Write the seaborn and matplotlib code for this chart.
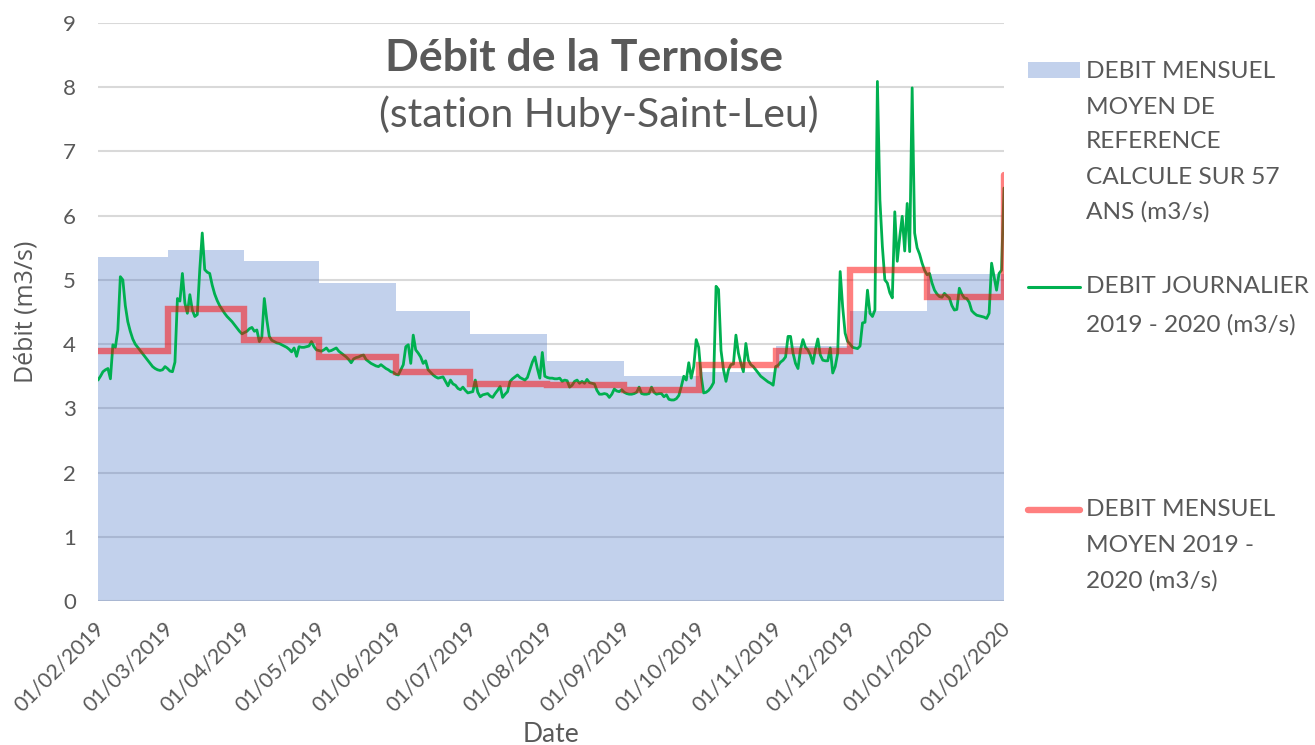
import numpy as np
import pandas as pd
import matplotlib
matplotlib.use("Agg")
import matplotlib.pyplot as plt
import matplotlib.dates as mdates
import matplotlib.transforms as mtransforms
from matplotlib.lines import Line2D
from matplotlib.patches import Rectangle
import seaborn as sns

# ---------------- data ----------------
month_starts = ["01/02/2019", "01/03/2019", "01/04/2019", "01/05/2019", "01/06/2019",
                "01/07/2019", "01/08/2019", "01/09/2019", "01/10/2019", "01/11/2019",
                "01/12/2019", "01/01/2020", "01/02/2020"]

# reference monthly mean over 57 years (one value per month, Feb 2019 .. Jan 2020)
ref_monthly = [5.35, 5.47, 5.30, 4.95, 4.52, 4.15, 3.73, 3.50, 3.56, 3.97, 4.52, 5.09]

# monthly mean 2019-2020 (last value = 01/02/2020)
mean_monthly = [3.90, 4.54, 4.07, 3.80, 3.57, 3.38, 3.37, 3.29, 3.68, 3.90, 5.16, 4.73, 6.64]

# daily discharge 2019-2020
daily_feb = [3.44, 3.50, 3.57, 3.60, 3.62, 3.46, 3.99, 3.95, 4.22, 5.05, 5.00, 4.60, 4.35, 4.20,
             4.08, 4.00, 3.95, 3.90, 3.85, 3.80, 3.75, 3.70, 3.65, 3.62, 3.60, 3.59, 3.60, 3.65]
daily_mar = [3.62, 3.58, 3.57, 3.72, 4.71, 4.67, 5.10, 4.64, 4.48, 4.77, 4.53, 4.43, 4.46, 5.16,
             5.73, 5.16, 5.12, 5.10, 4.92, 4.78, 4.68, 4.60, 4.54, 4.48, 4.43, 4.39, 4.35, 4.30,
             4.25, 4.20, 4.16]
daily_apr = [4.18, 4.20, 4.24, 4.26, 4.20, 4.22, 4.04, 4.11, 4.71, 4.38, 4.12, 4.06, 4.04, 4.02,
             4.01, 3.99, 3.97, 3.95, 3.92, 3.88, 3.94, 3.81, 3.96, 3.95, 3.95, 3.96, 3.97, 4.04,
             3.96, 3.91]
daily_may = [3.90, 3.89, 3.91, 3.94, 3.89, 3.90, 3.92, 3.94, 3.89, 3.86, 3.83, 3.80, 3.76, 3.71,
             3.77, 3.79, 3.80, 3.82, 3.83, 3.76, 3.73, 3.70, 3.68, 3.66, 3.65, 3.68, 3.65, 3.62,
             3.60, 3.57, 3.56]
daily_jun = [3.53, 3.52, 3.60, 3.68, 3.96, 3.99, 3.70, 4.14, 3.91, 3.86, 3.80, 3.70, 3.74, 3.60,
             3.56, 3.52, 3.49, 3.47, 3.48, 3.49, 3.42, 3.35, 3.44, 3.38, 3.36, 3.31, 3.29, 3.33,
             3.28, 3.24]
daily_jul = [3.25, 3.26, 3.44, 3.25, 3.18, 3.21, 3.22, 3.23, 3.19, 3.17, 3.23, 3.28, 3.34, 3.17,
             3.22, 3.26, 3.42, 3.46, 3.49, 3.52, 3.48, 3.46, 3.44, 3.48, 3.60, 3.72, 3.80, 3.62,
             3.47, 3.87, 3.50]
daily_aug = [3.48, 3.47, 3.47, 3.46, 3.46, 3.47, 3.42, 3.44, 3.43, 3.33, 3.36, 3.42, 3.44, 3.39,
             3.42, 3.39, 3.45, 3.40, 3.39, 3.38, 3.28, 3.22, 3.22, 3.23, 3.22, 3.17, 3.22, 3.30,
             3.27, 3.26, 3.29]
daily_sep = [3.25, 3.23, 3.22, 3.22, 3.23, 3.25, 3.33, 3.23, 3.22, 3.22, 3.23, 3.33, 3.25, 3.22,
             3.23, 3.23, 3.18, 3.21, 3.14, 3.13, 3.13, 3.15, 3.20, 3.34, 3.50, 3.44, 3.71, 3.47,
             3.65, 4.07]
daily_oct = [3.95, 3.50, 3.24, 3.25, 3.28, 3.33, 3.40, 4.90, 4.85, 3.90, 3.60, 3.42, 3.60, 3.68,
             3.69, 4.14, 3.86, 3.70, 3.57, 4.01, 3.75, 3.68, 3.65, 3.60, 3.55, 3.50, 3.47, 3.44,
             3.41, 3.39, 3.36]
daily_nov = [3.65, 3.67, 3.72, 3.75, 3.80, 4.12, 4.12, 3.86, 3.70, 3.62, 3.91, 4.07, 3.95, 3.91,
             3.83, 3.70, 3.91, 4.08, 3.83, 3.75, 3.74, 3.74, 3.94, 3.55, 3.65, 3.86, 5.13, 4.58,
             4.17, 4.04]
daily_dec = [4.00, 3.95, 3.94, 3.93, 3.97, 4.33, 4.34, 4.84, 4.48, 4.43, 4.53, 8.09, 6.25, 5.52,
             5.00, 4.95, 4.80, 4.72, 6.06, 5.29, 5.67, 5.99, 5.45, 6.19, 5.44, 7.99, 5.73, 5.50,
             5.40, 5.26, 5.15]
daily_jan = [5.08, 5.10, 4.95, 4.84, 4.78, 4.74, 4.73, 4.79, 4.75, 4.72, 4.60, 4.53, 4.54, 4.87,
             4.78, 4.72, 4.71, 4.65, 4.52, 4.48, 4.45, 4.44, 4.43, 4.42, 4.40, 4.48, 5.26, 5.05,
             4.84, 5.10, 5.15]
daily_feb2020 = [6.43]

daily_values = (daily_feb + daily_mar + daily_apr + daily_may + daily_jun + daily_jul +
                daily_aug + daily_sep + daily_oct + daily_nov + daily_dec + daily_jan +
                daily_feb2020)

title = "Débit de la Ternoise"
subtitle = "(station Huby-Saint-Leu)"
legend_ref = ["DEBIT MENSUEL", "MOYEN DE", "REFERENCE", "CALCULE SUR 57", "ANS (m3/s)"]
legend_daily = ["DEBIT JOURNALIER", "2019 - 2020 (m3/s)"]
legend_mean = ["DEBIT MENSUEL", "MOYEN 2019 -", "2020 (m3/s)"]

# ---------------- styling ----------------
sns.set_theme(style="white")
plt.rcParams["font.family"] = ["Lato", "DejaVu Sans"]
TXT = "#595959"
BLUE = "#4472C4"
BLUE_ALPHA = 0.32
GREEN = "#00B050"

W, H = 1315, 745
fig = plt.figure(figsize=(W / 100, H / 100), dpi=100)
ax = fig.add_axes([98 / W, 1 - 601 / H, (1004 - 98) / W, (601 - 23) / H])

edges = pd.to_datetime(month_starts, format="%d/%m/%Y")
dates = pd.date_range(edges[0], edges[-1], freq="D")
df_daily = pd.DataFrame({"date": dates, "debit": daily_values})
df_mean = pd.DataFrame({"date": edges, "debit": mean_monthly})

sns.lineplot(data=df_daily, x="date", y="debit", color=GREEN, lw=2.0, ax=ax, zorder=3)
sns.lineplot(data=df_mean, x="date", y="debit", color="red", alpha=0.5, lw=4.6,
             drawstyle="steps-post", solid_joinstyle="miter", ax=ax, zorder=4)
ax.stairs(ref_monthly, mdates.date2num(edges), fill=True, color=BLUE, alpha=BLUE_ALPHA,
          lw=0, zorder=2)

ax.set_xlim(edges[0], edges[-1])
ax.set_ylim(0, 9)
ax.set_yticks(range(0, 10))
ax.set_xticks(edges)
ax.xaxis.set_major_formatter(mdates.DateFormatter("%d/%m/%Y"))
ax.yaxis.grid(True, color="#D9D9D9", lw=1.5, zorder=1)
ax.xaxis.grid(False)
ax.set_axisbelow(True)
for s in ax.spines.values():
    s.set_visible(False)
ax.tick_params(axis="both", length=0, colors=TXT, labelsize=16)
ax.tick_params(axis="x", labelsize=15.3)
ax.tick_params(axis="y", pad=16)
ax.tick_params(axis="x", pad=6)
offset = mtransforms.ScaledTranslation(-4 / 100, -9 / 100, fig.dpi_scale_trans)
for lab in ax.get_xticklabels():
    lab.set_rotation(45)
    lab.set_ha("right")
    lab.set_rotation_mode("anchor")
    lab.set_transform(lab.get_transform() + offset)

ax.set_xlabel("Date", color=TXT, fontsize=19)
ax.xaxis.set_label_coords(0.5, (601 - 734) / 578)
ax.xaxis.label.set_va("center")
ax.set_ylabel("Débit (m3/s)", color=TXT, fontsize=18, family=["Open Sans", "DejaVu Sans"])
ax.yaxis.set_label_coords((26 - 98) / 906, (601 - 312) / 578)
ax.yaxis.label.set_va("center")

# titles
fig.text(584 / W, 1 - 58 / H, title, ha="center", va="center", fontsize=32,
         fontweight="bold", color=TXT)
fig.text(599 / W, 1 - 115 / H, subtitle, ha="center", va="center", fontsize=29.5, color=TXT)

# manual legend
LFS = 17.6
x_sym0, x_sym1, x_txt = 1028 / W, 1080 / W, 1086 / W
fig.patches.append(Rectangle((x_sym0, 1 - 78 / H), x_sym1 - x_sym0, 16 / H,
                             transform=fig.transFigure, facecolor=BLUE, alpha=BLUE_ALPHA,
                             edgecolor="none"))
for txt, yp in zip(legend_ref, [72, 107, 142, 177, 212]):
    fig.text(x_txt, 1 - yp / H, txt, ha="left", va="center", fontsize=LFS, color=TXT)

fig.lines.append(Line2D([x_sym0, x_sym1], [1 - 287 / H] * 2, transform=fig.transFigure,
                        color=GREEN, lw=2.2))
for txt, yp in zip(legend_daily, [287, 325]):
    fig.text(x_txt, 1 - yp / H, txt, ha="left", va="center", fontsize=LFS, color=TXT)

fig.lines.append(Line2D([x_sym0, x_sym1], [1 - 510 / H] * 2, transform=fig.transFigure,
                        color="red", alpha=0.5, lw=4.6, solid_capstyle="round"))
for txt, yp in zip(legend_mean, [510, 546, 581]):
    fig.text(x_txt, 1 - yp / H, txt, ha="left", va="center", fontsize=LFS, color=TXT)

fig.savefig("out.png", dpi=100)
